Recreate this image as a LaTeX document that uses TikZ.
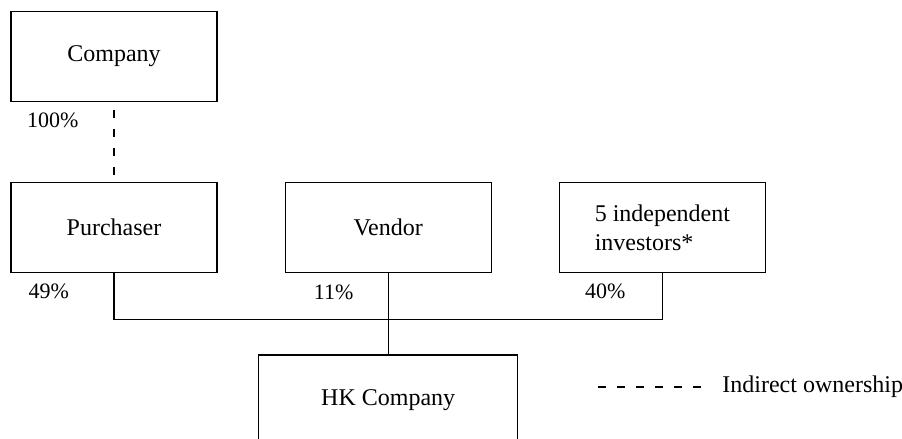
\documentclass[tikz,border=0pt]{standalone}
\usepackage{fontspec}
\setmainfont{Liberation Serif}
\usetikzlibrary{positioning,calc}
\tikzset{
  box/.style={draw,line width=0.6pt,minimum width=103pt,minimum height=45pt,
              align=center,inner sep=4pt,font=\fontsize{12}{14.5}\selectfont},
  lnk/.style={line width=0.6pt},
  ind/.style={line width=0.6pt,dash pattern=on 4pt off 5.5pt},
  lab/.style={font=\fontsize{11}{13}\selectfont,inner sep=1pt},
}

\begin{document}
\begin{tikzpicture}[x=0.5pt,y=-0.5pt,node distance=40pt and 33.5pt]
    \useasboundingbox (0,0) rectangle (902,439);
    \clip (0,0) rectangle (902,439);
    \node[box] (company) at (114,56.5) {Company};
    \node[box,below=of company] (purchaser) {Purchaser};
    \node[box,right=of purchaser] (vendor) {Vendor};
    \node[box,right=of vendor,align=left] (investors) {5 independent\\investors*};
    \node[box,minimum width=129.5pt,below=40.5pt of vendor] (hk) {HK Company};
    \coordinate (hub) at ($(vendor.south)+(0,46)$);
    \draw[ind,shorten <=4pt,shorten >=3.5pt] (company) -- (purchaser);
    \draw[lnk] (purchaser.south) |- (hub) -| (investors.south);
    \draw[lnk] (vendor) -- (hk);
    % shareholdings
    \node[lab] (p100) at ($(company.south west)+(42.5,18)$) {100\%};
    \node[lab] (p49) at ($(purchaser.south west)+(38.5,18)$) {49\%};
    \node[lab] (p11) at ($(vendor.south west)+(49,19)$) {11\%};
    \node[lab] (p40) at ($(investors.south west)+(46.5,18)$) {40\%};
    % legend
    \node[anchor=west,inner sep=0pt,font=\fontsize{12}{14.5}\selectfont] (legend) at (722,387) {Indirect ownership};
    \coordinate (lgA) at (598,387);
    \coordinate (lgB) at (702,387);
    \draw[ind] (lgA) -- (lgB);
\end{tikzpicture}
\end{document}
